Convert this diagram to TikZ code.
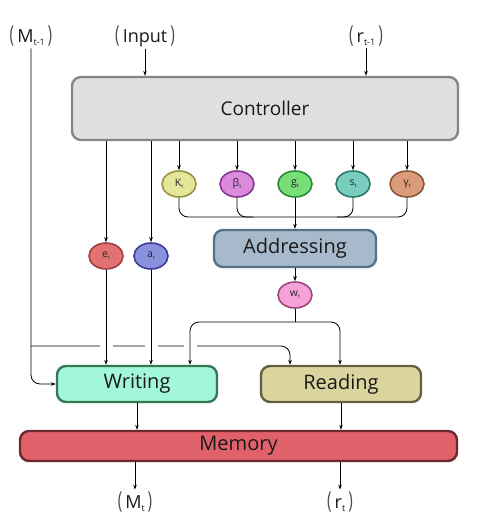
\documentclass[tikz,border=0pt]{standalone}
\usepackage{fontspec}
\usepackage{graphicx}
\setmainfont{Open Sans}
\usetikzlibrary{arrows.meta,calc,shapes.geometric}
\definecolor{ctrlF}{HTML}{E0E0E0}\definecolor{ctrlD}{HTML}{858585}
\definecolor{addrF}{HTML}{A7BACB}\definecolor{addrD}{HTML}{55728A}
\definecolor{wrF}{HTML}{A2F7D8}\definecolor{wrD}{HTML}{3A7558}
\definecolor{rdF}{HTML}{DCD49E}\definecolor{rdD}{HTML}{665E40}
\definecolor{memF}{HTML}{E0616A}\definecolor{memD}{HTML}{6A2A2E}
\definecolor{kF}{HTML}{E6E69A}\definecolor{kD}{HTML}{96963E}
\definecolor{bF}{HTML}{DC8ADE}\definecolor{bD}{HTML}{86388E}
\definecolor{gF}{HTML}{78DE78}\definecolor{gD}{HTML}{2A8A3A}
\definecolor{sF}{HTML}{78CDBE}\definecolor{sD}{HTML}{2A7A6A}
\definecolor{yF}{HTML}{DC9A78}\definecolor{yD}{HTML}{87583A}
\definecolor{eF}{HTML}{E27272}\definecolor{eD}{HTML}{A04040}
\definecolor{aF}{HTML}{8A92DE}\definecolor{aD}{HTML}{3A3C9A}
\definecolor{wF}{HTML}{F5A2D8}\definecolor{wD}{HTML}{9A4A7A}
\newcommand\brk[1]{{\color{black!70}\scalebox{0.85}[1.3]{(}}\,#1\,{\color{black!70}\scalebox{0.85}[1.3]{)}}}
\newcommand\lsub[1]{\raisebox{-3pt}{\fontsize{9}{9}\selectfont #1}}
\newcommand\csub[1]{\raisebox{-2pt}{\fontsize{5.5}{6}\selectfont #1}}
\begin{document}
\begin{tikzpicture}[x=1pt,y=-1pt,
  box/.style={draw, line width=2.4pt, rounded corners=9pt, inner sep=0pt, font=\fontsize{19}{21}\selectfont, text=black!90},
  circ/.style={ellipse, draw, line width=1.6pt, minimum width=34pt, minimum height=26pt, inner sep=0pt, font=\fontsize{10.5}{11}\selectfont, text=black!85},
  lab/.style={inner sep=2pt, font=\fontsize{18}{20}\selectfont, text=black!90},
  arr/.style={-{Stealth[length=5pt,width=3.6pt]}, line width=0.8pt},
  ln/.style={line width=0.8pt},
  rc/.style={rounded corners=9pt}]
\useasboundingbox (0,0) rectangle (478,532);
% labels
\node[lab] (mt1) at (31,36) {\brk{M\lsub{t-1}}};
\node[lab] (inp) at (145,36) {\brk{Input}};
\node[lab] (rt1) at (366,36) {\brk{r\lsub{t-1}}};
\node[lab] (mt) at (135,502) {\brk{M\lsub{t}}};
\node[lab] (rt) at (340,502) {\brk{r\lsub{t}}};
% boxes
\node[box, fill=ctrlF, draw=ctrlD, minimum width=386pt, minimum height=63pt] (ctrl) at (265,108.5) {Controller};
\node[box, fill=addrF, draw=addrD, minimum width=162pt, minimum height=37pt] (addr) at (295,248.5) {\fontsize{20}{22}\selectfont Addressing};
\node[box, fill=wrF, draw=wrD, minimum width=160pt, minimum height=36pt] (wr) at (137,384) {\fontsize{20}{22}\selectfont Writing};
\node[box, fill=rdF, draw=rdD, minimum width=160pt, minimum height=36pt] (rd) at (341,384) {\fontsize{20}{22}\selectfont Reading};
\node[box, fill=memF, draw=memD, minimum width=437pt, minimum height=30pt] (mem) at (238.5,446) {\fontsize{20}{22}\selectfont Memory};
% circles
\node[circ, fill=kF, draw=kD] (K) at (179,184) {K\csub{t}};
\node[circ, fill=bF, draw=bD] (B) at (237,184) {β\csub{t}};
\node[circ, fill=gF, draw=gD] (G) at (295,184) {g\csub{t}};
\node[circ, fill=sF, draw=sD] (S) at (353,184) {s\csub{t}};
\node[circ, fill=yF, draw=yD] (Y) at (407,184) {γ\csub{t}};
\node[circ, fill=eF, draw=eD] (E) at (106,256) {e\csub{t}};
\node[circ, fill=aF, draw=aD] (A) at (151,256) {a\csub{t}};
\node[circ, fill=wF, draw=wD] (W) at (295,295) {w\csub{t}};
% coordinates
\coordinate (bus) at (0,217);
\coordinate (split) at (295,322);
\coordinate (wxL) at (190,322);
\coordinate (wxR) at (340,322);
\coordinate (hy) at (0,346);
\coordinate (rdin) at (290,346);
% top inputs
\draw[arr] (inp.south) -- (inp.south |- ctrl.north);
\draw[arr] (rt1.south) -- (rt1.south |- ctrl.north);
% M_{t-1}
\draw[arr, rc] (mt1.south) -- (mt1.south |- wr.west) -- (wr.west);
\draw[arr, rc] (mt1.south |- hy) -- (rdin) -- (rdin |- rd.north);
\foreach \x in {106,151,190} \fill[white] (\x-6.5,344) rectangle (\x+6.5,348);
% controller outputs
\foreach \n in {K,B,G,S,Y,E,A} \draw[arr] (\n |- ctrl.south) -- (\n);
% bus
\draw[ln, rc] (K.south) -- (K.south |- bus) -- (Y.south |- bus) -- (Y.south);
\draw[ln, rc] (B.south) -- (B.south |- bus) -- ++(16,0);
\draw[ln, rc] (S.south) -- (S.south |- bus) -- ++(-16,0);
\draw[arr] (G.south) -- (G.south |- addr.north);
% addressing -> w
\draw[arr] (W |- addr.south) -- (W);
\draw[ln] (W.south) -- (split);
\draw[arr, rc] (split) -- (wxL) -- (wxL |- wr.north);
\draw[arr, rc] (split) -- (wxR) -- (wxR |- rd.north);
% e, a -> writing
\draw[arr] (E) -- (E |- wr.north);
\draw[arr] (A) -- (A |- wr.north);
% to memory
\draw[arr] (wr.south) -- (wr.south |- mem.north);
\draw[arr] (rd.south) -- (rd.south |- mem.north);
% outputs
\draw[arr] (mt.north |- mem.south) -- (mt.north);
\draw[arr] (rt.north |- mem.south) -- (rt.north);
\end{tikzpicture}
\end{document}
